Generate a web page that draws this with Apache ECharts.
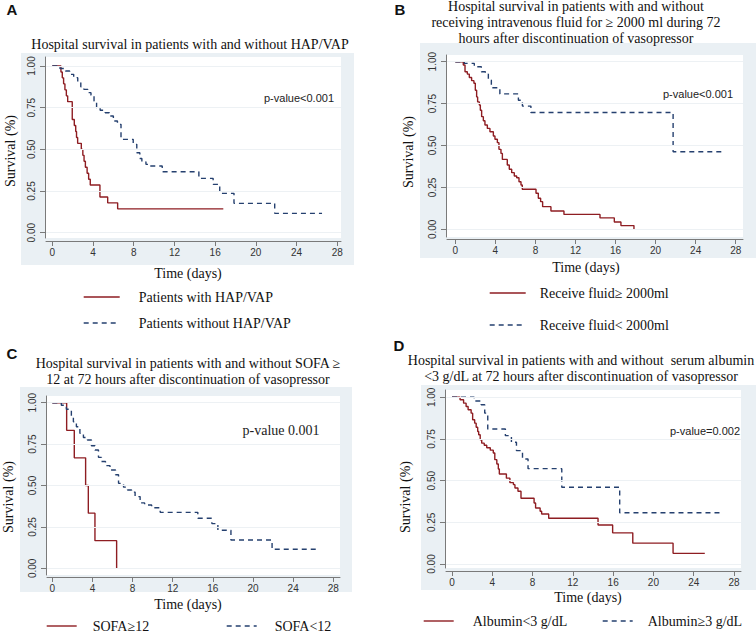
<!DOCTYPE html>
<html><head><meta charset="utf-8">
<script src="https://cdn.jsdelivr.net/npm/echarts@6/dist/echarts.min.js"></script>
<style>html,body{margin:0;padding:0;background:#fff}#c{width:756px;height:633px}</style>
</head><body><div id="c"></div>
<script>
// ---------- data ----------
const timeTicks = [0, 4, 8, 12, 16, 20, 24, 28];
const survTicks = [0, 0.25, 0.5, 0.75, 1];

// Panel A
const hapYes = [[0,1],[0.85,0.964],[0.98,0.929],[1.11,0.893],[1.24,0.857],[1.38,0.821],[1.51,0.786],[1.96,0.679],[2.16,0.643],[2.3,0.607],[2.38,0.571],[2.49,0.536],[2.85,0.5],[3.0,0.464],[3.12,0.429],[3.25,0.393],[3.42,0.357],[3.57,0.321],[3.73,0.286],[4.68,0.214],[5.44,0.179],[6.42,0.143],[16.8,0.143]];
const hapNo = [[0,1],[0.75,0.985],[1.3,0.97],[1.7,0.95],[2.1,0.93],[2.5,0.9],[2.8,0.875],[3.1,0.86],[3.5,0.84],[3.8,0.825],[4.1,0.79],[4.35,0.75],[4.7,0.735],[5.2,0.72],[5.6,0.7],[6.0,0.67],[6.4,0.65],[6.75,0.56],[7.95,0.53],[8.3,0.48],[8.6,0.445],[8.8,0.425],[9.2,0.41],[9.6,0.4],[10.8,0.366],[14.4,0.326],[15.8,0.29],[16.45,0.236],[17.85,0.176],[21.85,0.116],[26.5,0.116]];
// Panel B
const fluidHigh = [[0,1],[0.8,0.98],[0.97,0.94],[1.2,0.926],[1.4,0.906],[1.63,0.887],[1.86,0.871],[2.0,0.83],[2.13,0.79],[2.23,0.76],[2.4,0.742],[2.5,0.71],[2.63,0.672],[2.8,0.648],[2.96,0.622],[3.2,0.602],[3.46,0.582],[3.8,0.557],[3.96,0.537],[4.2,0.517],[4.36,0.477],[4.56,0.453],[4.7,0.417],[5.19,0.384],[5.39,0.358],[5.63,0.338],[5.89,0.318],[6.13,0.308],[6.36,0.284],[6.56,0.264],[6.69,0.239],[8.06,0.215],[8.29,0.185],[8.52,0.165],[8.72,0.135],[9.55,0.109],[10.85,0.089],[14.45,0.068],[15.88,0.044],[16.54,0.022],[17.84,0]];
const fluidLow = [[0,1],[0.9,0.99],[1.9,0.97],[2.6,0.94],[3.0,0.925],[3.3,0.89],[3.6,0.845],[4.45,0.808],[6.3,0.77],[6.7,0.735],[7.55,0.697],[21.75,0.463],[26.6,0.463]];
// Panel C
const sofaHigh = [[0,1],[1.43,0.833],[2.19,0.667],[3.32,0.5],[3.59,0.333],[4.25,0.167],[6.41,0]];
const sofaLow = [[0,1],[0.9,0.985],[1.4,0.96],[1.9,0.915],[2.1,0.885],[2.4,0.855],[2.75,0.815],[3.1,0.79],[3.5,0.775],[3.9,0.74],[4.25,0.714],[4.6,0.67],[4.9,0.645],[5.3,0.62],[5.75,0.594],[6.3,0.565],[6.6,0.513],[7.1,0.49],[7.5,0.473],[7.9,0.46],[8.25,0.433],[8.75,0.395],[9.2,0.382],[9.9,0.366],[10.75,0.338],[14.5,0.302],[15.9,0.27],[16.5,0.23],[17.8,0.171],[21.9,0.115],[26.5,0.115]];
// Panel D
const albLow = [[0,1],[0.8,0.985],[1.15,0.965],[1.4,0.945],[1.6,0.925],[1.9,0.905],[2.05,0.865],[2.25,0.845],[2.4,0.82],[2.55,0.795],[2.65,0.775],[2.8,0.745],[2.95,0.725],[3.2,0.712],[3.45,0.697],[3.8,0.683],[4.1,0.666],[4.25,0.626],[4.45,0.6],[4.6,0.57],[4.7,0.54],[5.4,0.515],[5.75,0.488],[6.1,0.476],[6.25,0.456],[6.55,0.436],[6.85,0.394],[8.15,0.366],[8.3,0.336],[8.75,0.316],[8.9,0.3],[9.6,0.274],[14.5,0.234],[15.95,0.187],[17.95,0.125],[21.95,0.064],[25.1,0.064]];
const albHigh = [[0,1],[2.2,0.978],[2.9,0.955],[3.25,0.905],[3.55,0.81],[5.3,0.77],[5.9,0.73],[6.4,0.68],[7.0,0.63],[7.55,0.572],[10.9,0.46],[16.65,0.307],[26.75,0.307]];

const seriesNames = [
  ['Patients with HAP/VAP', 'Patients without HAP/VAP'],
  ['Receive fluid\u2265 2000ml', 'Receive fluid< 2000ml'],
  ['SOFA\u226512', 'SOFA<12'],
  ['Albumin<3 g/dL', 'Albumin\u22653 g/dL']
];
const seriesData = [[hapYes, hapNo], [fluidHigh, fluidLow], [sofaHigh, sofaLow], [albLow, albHigh]];
const panelLetters = ['A', 'B', 'C', 'D'];
const panelTitles = [
  'Hospital survival in patients with and without HAP/VAP',
  'Hospital survival in patients with and without\nreceiving intravenous fluid for \u2265 2000 ml during 72\nhours after discontinuation of vasopressor',
  'Hospital survival in patients with and without SOFA \u2265\n12 at 72 hours after discontinuation of vasopressor',
  'Hospital survival in patients with and without  serum albumin\n<3 g/dL at 72 hours after discontinuation of vasopressor'
];
const pValues = ['p-value<0.001', 'p-value<0.001', 'p-value 0.001', 'p-value=0.002'];
const xName = 'Time (days)';
const yName = 'Survival (%)';

// ---------- layout (pixels) ----------
const SERIF = '"Liberation Serif", "Times New Roman", serif';
const SANS = '"Liberation Sans", Arial, sans-serif';
const RED = '#8e1d22', BLUE = '#25406f';
const layout = [
  {plot:[46,57,341,238], x0:52.3, x28:337.3, y1:66, y0:232.7, bg:[21,53,354,265], xOff:3, yOff:1,
   letter:[12,9], title:[190,44], pv:[299,98,'sans'], xn:[188,273], yn:[10,151],
   leg:[[83,297,14],[83,323,14]]},
  {plot:[447,55,743,237], x0:455.3, x28:735.7, y1:61.7, y0:229.3, bg:[420,43,756,258], xOff:2, yOff:1,
   letter:[400,9], title:[576,22], pv:[698,94,'sans'], xn:[586,267], yn:[408,152],
   leg:[[489,293,9],[489,325,9]]},
  {plot:[47,396,340,575], x0:52.3, x28:333.3, y1:402.7, y0:568.3, bg:[20,387,352,592], xOff:2, yOff:1,
   letter:[12,353], title:[188,371], pv:[281,430,'serif'], xn:[188,604], yn:[8,497],
   leg:[[46,626,11],[226,626,13]]},
  {plot:[446,390,741,568], x0:452, x28:734, y1:397.3, y0:564, bg:[421,385,756,590], xOff:3, yOff:1,
   letter:[399,345], title:[581,368.5], pv:[705,431,'sans'], xn:[588,597], yn:[405,497],
   leg:[[423,621,14],[602,621,10]]}
];

const grids = [], xAxes = [], yAxes = [], series = [], legends = [], graphics = [];

layout.forEach((L, i) => {
  const [pl, pt, pr, pb] = L.plot;
  const pxDay = (L.x28 - L.x0) / 28;
  const pxUnit = (L.y0 - L.y1);
  grids.push({left: pl, top: pt, width: pr - pl, height: pb - pt, show: true,
    backgroundColor: '#ffffff', borderWidth: 0, containLabel: false});
  const axisCommon = {
    axisLine: {show: true, onZero: false, lineStyle: {color: '#7a7a7a', width: 1}},
    splitLine: {show: false}
  };
  xAxes.push(Object.assign({}, axisCommon, {
    gridIndex: i, type: 'value',
    min: 0 - (L.x0 - pl) / pxDay, max: 28 + (pr - L.x28) / pxDay,
    offset: L.xOff,
    axisTick: {show: true, length: 5, customValues: timeTicks, lineStyle: {color: '#7a7a7a'}},
    axisLabel: {customValues: timeTicks, margin: 6, fontSize: 10, color: '#333', fontFamily: SANS,
      formatter: v => String(Math.round(v))}
  }));
  yAxes.push(Object.assign({}, axisCommon, {
    gridIndex: i, type: 'value',
    min: 0 - (pb - L.y0) / pxUnit, max: 1 + (L.y1 - pt) / pxUnit,
    offset: L.yOff,
    axisTick: {show: true, length: 5, customValues: survTicks, lineStyle: {color: '#7a7a7a'}},
    axisLabel: {customValues: survTicks, margin: 9, rotate: 90, fontSize: 10, color: '#333', fontFamily: SANS,
      formatter: v => v.toFixed(2)}
  }));
  // horizontal grid lines at each survival tick
  series.push({
    type: 'line', name: 'grid' + i, xAxisIndex: i, yAxisIndex: i, data: [], silent: true, z: 1,
    markLine: {silent: true, symbol: ['none', 'none'], animation: false, label: {show: false},
      lineStyle: {color: '#edf1f4', type: 'solid', width: 1},
      data: survTicks.map(v => ({yAxis: v}))}
  });
  seriesData[i].forEach((d, k) => {
    series.push({
      type: 'line', name: seriesNames[i][k], xAxisIndex: i, yAxisIndex: i,
      step: 'end', symbol: 'none', showSymbol: false, data: d, z: 3,
      lineStyle: {color: k === 0 ? RED : BLUE, width: 1.4, type: k === 0 ? 'solid' : [5, 4]},
      itemStyle: {color: k === 0 ? RED : BLUE}
    });
    const lg = L.leg[k];
    legends.push({
      data: [seriesNames[i][k]], left: lg[0], top: lg[1] - 7, padding: 0,
      itemWidth: (i >= 2 ? 30 : 36), itemHeight: 14, selectedMode: false,
      itemStyle: {opacity: 0, borderWidth: 0},
      lineStyle: {width: 1.4},
      textStyle: {fontFamily: SERIF, fontSize: 14, color: '#111', padding: [0, 0, 0, lg[2]]}
    });
  });
  // decorative panel background
  const [bl, bt, br, bb] = L.bg;
  graphics.push({type: 'rect', z: -10, silent: true, shape: {x: bl, y: bt, width: br - bl, height: bb - bt},
    style: {fill: '#eaf0f4'}});
  graphics.push({type: 'text', z: 10, x: L.letter[0], y: L.letter[1], style: {text: panelLetters[i],
    font: 'bold 15px ' + SANS, fill: '#111', align: 'center', verticalAlign: 'middle'}});
  graphics.push({type: 'text', z: 10, x: L.title[0], y: L.title[1], style: {text: panelTitles[i],
    font: '14px ' + SERIF, lineHeight: 16, fill: '#111', align: 'center', verticalAlign: 'middle'}});
  graphics.push({type: 'text', z: 10, x: L.pv[0], y: L.pv[1], style: {text: pValues[i],
    font: L.pv[2] === 'serif' ? '14px ' + SERIF : '11px ' + SANS, fill: '#222', align: 'center', verticalAlign: 'middle'}});
  graphics.push({type: 'text', z: 10, x: L.xn[0], y: L.xn[1], style: {text: xName,
    font: '14px ' + SERIF, fill: '#111', align: 'center', verticalAlign: 'middle'}});
  graphics.push({type: 'text', z: 10, x: L.yn[0], y: L.yn[1], rotation: Math.PI / 2, style: {text: yName,
    font: '14px ' + SERIF, fill: '#111', align: 'center', verticalAlign: 'middle'}});
});

const chart = echarts.init(document.getElementById('c'), null, {renderer: 'svg'});
chart.setOption({
  animation: false,
  backgroundColor: '#ffffff',
  grid: grids, xAxis: xAxes, yAxis: yAxes, series: series, legend: legends,
  graphic: {elements: graphics}
});
</script></body></html>
